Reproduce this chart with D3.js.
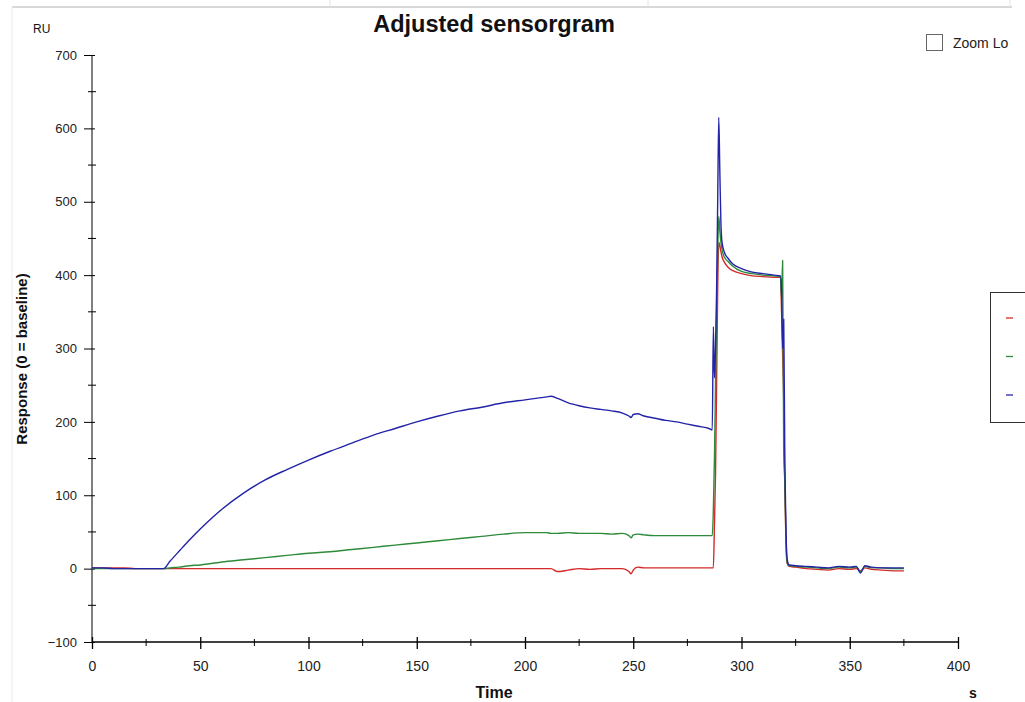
<!DOCTYPE html>
<html>
<head>
<meta charset="utf-8">
<script src="https://cdn.jsdelivr.net/npm/d3@7"></script>
<style>
	body { margin: 0; background: #fff; }
	svg { display: block; font-family: "Liberation Sans", Arial, sans-serif; }
</style>
</head>
<body>
<svg class="chart" width="1025" height="702"></svg>
<script>

// time (s) shared by the three curves
var timeSec = [0, 5, 10, 15, 20, 25, 30, 33, 36, 40, 45, 50, 55, 60, 70, 80, 90, 100, 110, 120, 130, 140, 150, 160, 170, 180, 190, 200, 205, 210, 212, 215, 220, 225, 230, 235, 240, 245, 248, 249, 250, 252, 255, 260, 265, 270, 275, 280, 285, 286.5, 287, 287.5, 288, 288.5, 289, 289.5, 290, 290.5, 291, 292, 294, 296, 300, 305, 310, 315, 318, 318.5, 319, 319.5, 320, 320.5, 321, 322, 325, 330, 335, 340, 345, 350, 353, 355, 357, 360, 365, 370, 375];

var redResp = [1, 1, 1, 1, 0, 0, 0, 0, 0, 0, 0, 0, 0, 0, 0, 0, 0, 0, 0, 0, 0, 0, 0, 0, 0, 0, 0, 0, 0, 0, 0, -4, -2, 0, -1, 0, 0, 0, -4, -7, -2, 2, 1, 1, 1, 1, 1, 1, 1, 1, 1, 60, 130, 250, 380, 445, 440, 432, 425, 418, 410, 406, 402, 399, 398, 397, 397, 350, 290, 230, 110, 40, 8, 3, 2, 0, -1, -2, 0, -1, 0, -3, 1, -1, -2, -3, -3];

var greenResp = [0, 0, 0, 0, 0, 0, 0, 0, 1, 2, 4, 5, 7, 9, 12, 15, 18, 21, 23, 26, 29, 32, 35, 38, 41, 44, 47, 49, 49, 49, 48, 48, 49, 48, 48, 48, 47, 48, 45, 42, 46, 47, 46, 45, 45, 45, 45, 45, 45, 45, 80, 150, 250, 350, 430, 480, 460, 445, 435, 425, 418, 412, 405, 402, 400, 399, 398, 370, 420, 160, 120, 50, 10, 4, 3, 2, 1, 0, 2, 1, 2, -4, 3, 1, 1, 0, 0];

var blueResp = [1, 1, 0, 0, 0, 0, 0, 0, 10, 23, 39, 54, 68, 81, 103, 121, 135, 148, 160, 171, 182, 191, 200, 208, 215, 220, 226, 230, 232, 234, 235, 232, 226, 222, 219, 217, 215, 212, 208, 206, 210, 211, 208, 205, 202, 200, 197, 194, 191, 189, 330, 260, 300, 380, 500, 615, 540, 470, 445, 432, 422, 415, 409, 404, 402, 400, 399, 380, 300, 340, 150, 60, 15, 5, 4, 3, 2, 1, 3, 2, 3, -6, 4, 2, 1, 1, 1];

var seriesColors = ["#d42a2a", "#2e8b3a", "#2424a8"];
var yTicks = [-100, 0, 100, 200, 300, 400, 500, 600, 700];
var xTicks = [0, 50, 100, 150, 200, 250, 300, 350, 400];

var svg = d3.select(".chart");

var x = d3.scaleLinear().domain([0, 400]).range([92, 958]);
var y = d3.scaleLinear().domain([-100, 700]).range([642, 55]);

// window chrome
svg.append("line").attr("x1", 12).attr("x2", 1012).attr("y1", 7).attr("y2", 7)
	.style("stroke", "#d8d8d8").style("stroke-width", 2);
svg.append("line").attr("x1", 12).attr("x2", 12).attr("y1", 7).attr("y2", 702)
	.style("stroke", "#ececec");
[330, 648, 1010].forEach(function(px){
	svg.append("line").attr("x1", px).attr("x2", px).attr("y1", 0).attr("y2", 7)
		.style("stroke", "#e4e4e4");
});

svg.append("text")
	.text("Adjusted sensorgram")
	.attr("x", 494).attr("y", 32)
	.attr("text-anchor", "middle")
	.style("font-size", "23.5px").style("font-weight", "bold").style("fill", "#111");

svg.append("text").text("RU")
	.attr("x", 33).attr("y", 33)
	.style("font-size", "12px").style("fill", "#111");

svg.append("text").text("Response (0 = baseline)")
	.attr("transform", "translate(27,359) rotate(-90)")
	.attr("text-anchor", "middle")
	.style("font-size", "15px").style("font-weight", "bold").style("fill", "#111");

svg.append("text").text("Time")
	.attr("x", 494).attr("y", 698)
	.attr("text-anchor", "middle")
	.style("font-size", "16px").style("font-weight", "bold").style("fill", "#111");

svg.append("text").text("s")
	.attr("x", 973).attr("y", 698)
	.attr("text-anchor", "middle")
	.style("font-size", "14px").style("font-weight", "bold").style("fill", "#111");

// y axis
var yAxis = svg.append("g")
	.attr("transform", "translate(92,0)")
	.call(d3.axisLeft(y).tickValues(yTicks).tickSize(8).tickPadding(7));
yAxis.select(".domain").attr("d", "M0," + y(-100) + "V" + y(700)).style("stroke", "#000");
yAxis.selectAll(".tick line").attr("x1", 3).style("stroke", "#000");
yAxis.selectAll(".tick text")
	.style("font-size", "13px").style("font-family", "Arial, 'Liberation Sans', sans-serif")
	.style("fill", "#222");

svg.append("g").selectAll("line")
	.data(d3.range(-50, 700, 100))
	.enter().append("line")
	.attr("x1", 88).attr("x2", 96)
	.attr("y1", function(d){ return y(d); }).attr("y2", function(d){ return y(d); })
	.style("stroke", "#000");

// x axis
var xAxis = svg.append("g")
	.attr("transform", "translate(0," + y(-100) + ")")
	.call(d3.axisBottom(x).tickValues(xTicks).tickSize(7).tickPadding(12));
xAxis.select(".domain").attr("d", "M" + x(0) + ",0H" + x(400)).style("stroke", "#000").style("stroke-width", 1.5);
xAxis.selectAll(".tick line").attr("y1", -5).style("stroke", "#000").style("stroke-width", 1.3);
xAxis.selectAll(".tick text")
	.style("font-size", "14px").style("font-family", "'Liberation Sans Narrow', 'Liberation Sans', sans-serif")
	.style("fill", "#222");

svg.append("g").selectAll("line")
	.data(d3.range(25, 400, 50))
	.enter().append("line")
	.attr("x1", function(d){ return x(d); }).attr("x2", function(d){ return x(d); })
	.attr("y1", y(-100) - 3).attr("y2", y(-100) + 4)
	.style("stroke", "#000");

// curves
var line = d3.line()
	.curve(d3.curveMonotoneX)
	.x(function(d){ return x(d[0]); })
	.y(function(d){ return y(d[1]); });

[redResp, greenResp, blueResp].forEach(function(resp, k){
	svg.append("path")
		.datum(timeSec.map(function(t, i){ return [t, resp[i]]; }))
		.attr("d", line)
		.style("fill", "none")
		.style("stroke", seriesColors[k])
		.style("stroke-width", 1.4)
		.style("stroke-linejoin", "round");
});

// zoom checkbox
svg.append("rect").attr("x", 926.5).attr("y", 34.5).attr("width", 16).attr("height", 16)
	.style("fill", "#fff").style("stroke", "#666");
svg.append("text").text("Zoom Lo")
	.attr("x", 953).attr("y", 48)
	.style("font-size", "14px").style("fill", "#222");

// legend box (cut off by the window)
svg.append("rect").attr("x", 990.5).attr("y", 292.5).attr("width", 60).attr("height", 130)
	.style("fill", "#fff").style("stroke", "#333");
svg.append("g").selectAll("line")
	.data(seriesColors)
	.enter().append("line")
	.attr("x1", 1006).attr("x2", 1013)
	.attr("y1", function(d, i){ return 318 + i * 38.5; })
	.attr("y2", function(d, i){ return 318 + i * 38.5; })
	.style("stroke", function(d){ return d; })
	.style("stroke-width", 1.3);

</script>
</body>
</html>
